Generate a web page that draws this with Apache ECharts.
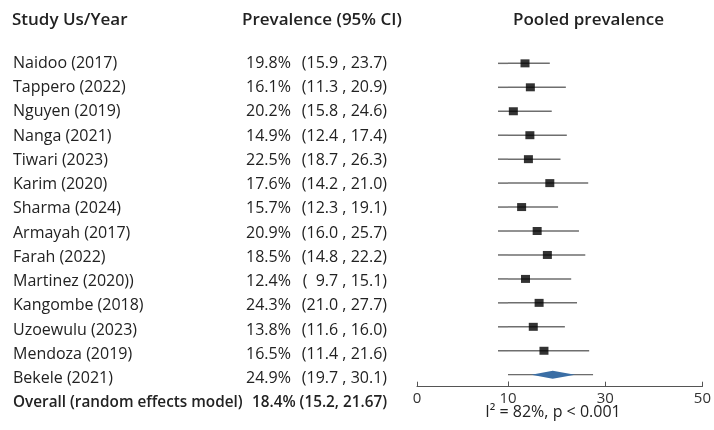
<!DOCTYPE html>
<html>
<head>
<meta charset="utf-8">
<script src="https://cdn.jsdelivr.net/npm/echarts@6/dist/echarts.min.js"></script>
<style>
  html, body { margin: 0; padding: 0; background: #fff; }
  #forest { width: 714px; height: 430px; }
</style>
</head>
<body>
<div id="forest"></div>
<script>
// table columns
const studies = ["Naidoo (2017)", "Tappero (2022)", "Nguyen (2019)", "Nanga (2021)", "Tiwari (2023)",
  "Karim (2020)", "Sharma (2024)", "Armayah (2017)", "Farah (2022)", "Martinez (2020))",
  "Kangombe (2018)", "Uzoewulu (2023)", "Mendoza (2019)", "Bekele (2021)"];
const prevalence = [19.8, 16.1, 20.2, 14.9, 22.5, 17.6, 15.7, 20.9, 18.5, 12.4, 24.3, 13.8, 16.5, 24.9];
const ciLow = [15.9, 11.3, 15.8, 12.4, 18.7, 14.2, 12.3, 16.0, 14.8, 9.7, 21.0, 11.6, 11.4, 19.7];
const ciHigh = [23.7, 20.9, 24.6, 17.4, 26.3, 21.0, 19.1, 25.7, 22.2, 15.1, 27.7, 16.0, 21.6, 30.1];
const overallLabel = "Overall (random effects model)";
const overallText = "18.4% (15.2, 21.67)";

const plotLow = [8.9, 8.9, 8.9, 8.9, 8.9, 8.9, 8.9, 8.9, 8.9, 8.9, 8.9, 8.9, 8.9];
const plotEst = [13.5, 14.6, 11.1, 14.5, 14.2, 18.6, 12.8, 16.0, 18.1, 13.6, 16.4, 15.2, 17.4];
const plotHigh = [18.6, 21.9, 19.0, 22.1, 20.8, 26.5, 20.3, 24.6, 25.9, 23.0, 24.2, 21.7, 26.7];
const pooledWhisker = [10, 27.5];
const pooledDiamond = [14.8, 19.2, 23.8];
const pooledRow = 13;

// x axis is drawn in two pieces: 0-10 is stretched
const axisBreak = 10;
const leftRange = [0, 10];
const rightRange = [10, 50];
const rightInterval = 20;

const font = '"Open Sans", "Noto Sans", sans-serif';
const ink = '#222';

function ciString(i) {
  const lo = ciLow[i] < 10 ? '  ' + ciLow[i].toFixed(1) : ciLow[i].toFixed(1);
  return '(' + lo + ' , ' + ciHigh[i].toFixed(1) + ')';
}

const chart = echarts.init(document.getElementById('forest'));

const axisCommon = {
  type: 'value',
  axisLine: { onZero: false, lineStyle: { color: '#555', width: 1 } },
  axisTick: { inside: true, length: 5, lineStyle: { color: '#555' } },
  axisLabel: { color: '#333', fontSize: 15, fontFamily: font, margin: 5 },
  splitLine: { show: false }
};

const headFont = '600 17px ' + font;

const option = {
  animation: false,
  textStyle: { fontFamily: font },
  graphic: [
    { type: 'text', x: 12, y: 20, style: { text: 'Study Us/Year', font: headFont, fill: ink, verticalAlign: 'middle' } },
    { type: 'text', x: 242, y: 20, style: { text: 'Prevalence (95% CI)', font: headFont, fill: ink, verticalAlign: 'middle' } },
    { type: 'text', x: 513, y: 20, style: { text: 'Pooled prevalence', font: headFont, fill: ink, verticalAlign: 'middle' } },
    { type: 'text', x: 553, y: 412, style: { text: 'I\u00b2 = 82%, p < 0.001', font: '16px ' + font, fill: ink, align: 'center', verticalAlign: 'middle' } }
  ],
  grid: [
    { left: 0, width: 410, top: 39.06, bottom: 3.1 },
    { left: 417, width: 91, top: 39.4, bottom: 43.3 },
    { left: 508, width: 199, top: 39.4, bottom: 43.3 }
  ],
  xAxis: [
    { gridIndex: 0, type: 'value', min: 0, max: 410, show: false },
    Object.assign({}, axisCommon, {
      gridIndex: 1, min: leftRange[0], max: leftRange[1], interval: axisBreak,
      axisLabel: Object.assign({}, axisCommon.axisLabel, { formatter: v => (v === axisBreak ? '' : String(v)) })
    }),
    Object.assign({}, axisCommon, { gridIndex: 2, min: rightRange[0], max: rightRange[1], interval: rightInterval })
  ],
  yAxis: [
    { gridIndex: 0, type: 'value', min: -1, max: 15, inverse: true, show: false },
    { gridIndex: 1, type: 'value', min: -1, max: 13.5, inverse: true, show: false },
    { gridIndex: 2, type: 'value', min: -1, max: 13.5, inverse: true, show: false }
  ],
  series: [
    {
      // table text
      type: 'custom',
      xAxisIndex: 0, yAxisIndex: 0,
      silent: true,
      data: studies.map((s, i) => [0, i]).concat([[0, studies.length]]),
      renderItem: (params, api) => {
        const i = params.dataIndex;
        const row = api.value(1);
        const name = api.coord([13, row]);
        const pct = api.coord([246, row]);
        const right = api.coord([387, row]);
        if (i === studies.length) {
          const f = '600 15.3px ' + font;
          return {
            type: 'group',
            children: [
              { type: 'text', x: name[0], y: name[1], style: { text: overallLabel, font: f, fill: ink, verticalAlign: 'middle' } },
              { type: 'text', x: right[0], y: right[1], style: { text: overallText, font: f, fill: ink, align: 'right', verticalAlign: 'middle' } }
            ]
          };
        }
        const f = '16px ' + font;
        return {
          type: 'group',
          children: [
            { type: 'text', x: name[0], y: name[1], style: { text: studies[i], font: f, fill: ink, verticalAlign: 'middle' } },
            { type: 'text', x: pct[0], y: pct[1], style: { text: prevalence[i].toFixed(1) + '%', font: f, fill: ink, verticalAlign: 'middle' } },
            { type: 'text', x: right[0], y: right[1], style: { text: ciString(i), font: f, fill: ink, align: 'right', verticalAlign: 'middle' } }
          ]
        };
      }
    },
    {
      // whisker part left of the break
      type: 'custom',
      xAxisIndex: 1, yAxisIndex: 1,
      silent: true,
      data: plotLow.map((v, i) => [v, i]),
      renderItem: (params, api) => {
        const a = api.coord([api.value(0), api.value(1)]);
        const b = api.coord([axisBreak, api.value(1)]);
        return { type: 'line', shape: { x1: a[0], y1: a[1], x2: b[0], y2: b[1] }, style: { stroke: '#6e6e6e', lineWidth: 1.5 } };
      }
    },
    {
      // whisker part right of the break
      type: 'custom',
      xAxisIndex: 2, yAxisIndex: 2,
      silent: true,
      data: plotHigh.map((v, i) => [v, i]),
      renderItem: (params, api) => {
        const a = api.coord([axisBreak, api.value(1)]);
        const b = api.coord([api.value(0), api.value(1)]);
        return { type: 'line', shape: { x1: a[0], y1: a[1], x2: b[0], y2: b[1] }, style: { stroke: '#6e6e6e', lineWidth: 1.5 } };
      }
    },
    {
      type: 'scatter',
      xAxisIndex: 2, yAxisIndex: 2,
      silent: true,
      symbol: 'rect',
      symbolSize: [9, 8],
      itemStyle: { color: '#000' },
      data: plotEst.map((v, i) => [v, i])
    },
    {
      // pooled estimate
      type: 'custom',
      xAxisIndex: 2, yAxisIndex: 2,
      silent: true,
      data: [[pooledWhisker[0], pooledWhisker[1], pooledDiamond[0], pooledDiamond[1], pooledDiamond[2], pooledRow]],
      renderItem: (params, api) => {
        const row = api.value(5);
        const w0 = api.coord([api.value(0), row]);
        const w1 = api.coord([api.value(1), row]);
        const d0 = api.coord([api.value(2), row]);
        const dm = api.coord([api.value(3), row]);
        const d1 = api.coord([api.value(4), row]);
        return {
          type: 'group',
          children: [
            { type: 'line', shape: { x1: w0[0], y1: w0[1], x2: w1[0], y2: w1[1] }, style: { stroke: '#444', lineWidth: 1 } },
            { type: 'polygon', shape: { points: [[d0[0], d0[1]], [dm[0], dm[1] - 4], [d1[0], d1[1]], [dm[0], dm[1] + 4]] }, style: { fill: '#3a6ea5' } }
          ]
        };
      }
    }
  ]
};

chart.setOption(option);
</script>
</body>
</html>
